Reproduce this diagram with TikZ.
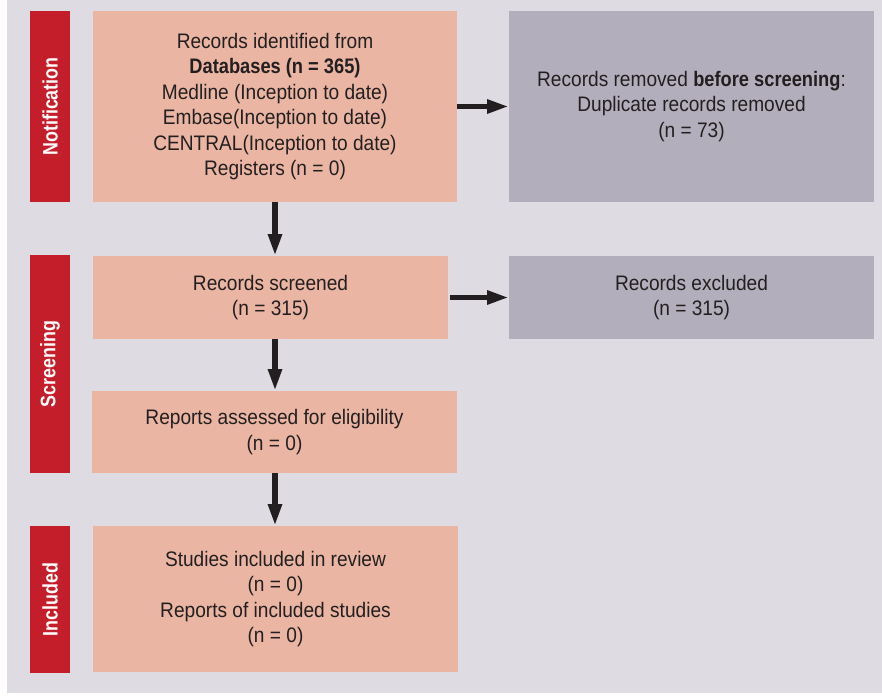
\documentclass[tikz,border=0pt]{standalone}
\usepackage{fontspec}
\setmainfont{Liberation Sans}[FakeStretch=0.91,BoldFeatures={FakeStretch=0.87}]
\newfontfamily\barfont{Liberation Sans}[FakeStretch=0.85,BoldFeatures={FakeStretch=0.85}]
\usetikzlibrary{arrows.meta}
\definecolor{bgc}{HTML}{DEDBE2}
\definecolor{redc}{HTML}{C41E2A}
\definecolor{salmonc}{HTML}{EBB5A3}
\definecolor{grayc}{HTML}{B3AEBC}
\definecolor{txtc}{HTML}{231F20}
\begin{document}
\begin{tikzpicture}[x=1pt,y=-1pt,
  box/.style={rectangle,inner sep=0pt,outer sep=0pt,align=center,text=txtc,
    font=\fontsize{21}{25.5}\selectfont},
  pbox/.style={box,fill=salmonc},
  gbox/.style={box,fill=grayc},
  bar/.style={rectangle,inner sep=0pt,outer sep=0pt,fill=redc,minimum width=40pt},
  barlabel/.style={text=white,rotate=90,font=\barfont\bfseries\fontsize{21}{24}\selectfont},
  arr/.style={draw=txtc,line width=5.5pt,-{Triangle[width=13pt,length=22pt]}}
]
\useasboundingbox (0,0) rectangle (882,695);
\fill[white] (0,0) rectangle (882,695);
\fill[bgc] (7,0) rectangle (882,693);

% red bars
\node[bar,minimum height=191pt] (b1) at (50,106.5) {};
\node[barlabel] (b1t) at (b1.center) {Notification};
\node[bar,minimum height=218pt] (b2) at (50,364) {};
\node[barlabel] (b2t) at (b2.center) {Screening};
\node[bar,minimum height=147pt] (b3) at (50,599.5) {};
\node[barlabel] (b3t) at (b3.center) {Included};

% boxes
\node[pbox,minimum width=364pt,minimum height=191pt] (n1) at (275,106.5)
  {Records identified from\\ \textbf{Databases (n = 365)}\\ Medline (Inception to date)\\ Embase(Inception to date)\\ CENTRAL(Inception to date)\\ Registers (n = 0)};
\node[gbox,minimum width=365pt,minimum height=191pt] (g1) at (691.5,106.5)
  {Records removed \textbf{before screening}:\\ Duplicate records removed\\ (n = 73)};
\node[pbox,minimum width=355pt,minimum height=83pt] (s1) at (270.5,297.5)
  {Records screened\\ (n = 315)};
\node[gbox,minimum width=365pt,minimum height=83pt] (g2) at (691.5,297.5)
  {Records excluded\\ (n = 315)};
\node[pbox,minimum width=365pt,minimum height=82pt] (r1) at (274.5,432)
  {Reports assessed for eligibility\\ (n = 0)};
\node[pbox,minimum width=365pt,minimum height=146pt] (i1) at (275.5,599)
  {Studies included in review\\ (n = 0)\\ Reports of included studies\\ (n = 0)};

% arrows
\draw[arr] (n1.south) -- (n1.south |- s1.north);
\draw[arr] (s1.south -| n1.south) -- (n1.south |- r1.north);
\draw[arr] (r1.south -| n1.south) -- (n1.south |- i1.north);
\draw[arr] (n1.east) -- (g1.west);
\draw[arr] ([xshift=2pt]s1.east) -- (g2.west);
\end{tikzpicture}
\end{document}
